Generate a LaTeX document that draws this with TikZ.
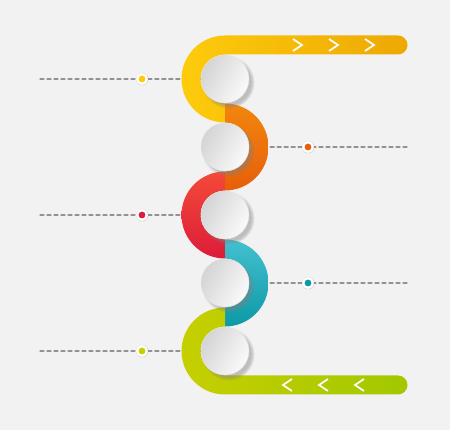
\documentclass[tikz,border=0pt]{standalone}
\usetikzlibrary{positioning,backgrounds,shadows}

\definecolor{paper}{HTML}{F2F2F2}
\definecolor{yelA}{HTML}{FDCB0C}
\definecolor{yelB}{HTML}{EEA804}
\definecolor{orgA}{HTML}{F2860E}
\definecolor{orgB}{HTML}{E75F0A}
\definecolor{redA}{HTML}{F44A38}
\definecolor{redB}{HTML}{DC1C3A}
\definecolor{tealA}{HTML}{44C0D0}
\definecolor{tealB}{HTML}{0C99A6}
\definecolor{limeA}{HTML}{C6CF00}
\definecolor{limeB}{HTML}{A2C800}
\definecolor{discL}{HTML}{D4D4D4}
\definecolor{discR}{HTML}{FAFAFA}
\definecolor{leadgray}{HTML}{929292}

\tikzstyle{disc} = [circle, minimum size=48pt, inner sep=0pt, draw=black!12, line width=0.3pt, left color=discL, right color=discR, shading angle=60, circular drop shadow={shadow xshift=3pt, shadow yshift=-3pt, shadow scale=1.1, opacity=0.45}]
\tikzstyle{dot} = [circle, minimum size=9.5pt, inner sep=0pt, draw=white, line width=2.2pt, circular drop shadow={shadow xshift=0pt, shadow yshift=0pt, shadow scale=1.4, opacity=0.25}]
\tikzstyle{endpt} = [coordinate]
\tikzstyle{leader} = [leadgray, line width=1.3pt, dash pattern=on 4pt off 3pt, line cap=round]
\tikzstyle{chevron} = [white, line width=1.7pt, miter limit=4]

\begin{document}
\begin{tikzpicture}[x=1pt, y=1pt, node distance=68pt]
	\useasboundingbox (0,0) rectangle (450,430);
	
	\node (c1) [disc] at (225,351) {};
	
	\node (c2) [disc, below of=c1] {};
	
	\node (c3) [disc, below of=c2] {};
	
	\node (c4) [disc, below of=c3] {};
	
	\node (c5) [disc, below of=c4] {};
	
	\node (d1) [dot, fill=yelA, left of=c1, xshift=-15pt] {};
	\node (d2) [dot, fill=orgB, right of=c2, xshift=15pt] {};
	\node (d3) [dot, fill=redB, left of=c3, xshift=-15pt] {};
	\node (d4) [dot, fill=tealB, right of=c4, xshift=15pt] {};
	\node (d5) [dot, fill=limeA, left of=c5, xshift=-15pt] {};
	
	\node (e1) [endpt, left of=d1, xshift=-34pt] {};
	\node (e2) [endpt, right of=d2, xshift=31pt] {};
	\node (e3) [endpt, left of=d3, xshift=-34pt] {};
	\node (e4) [endpt, right of=d4, xshift=31pt] {};
	\node (e5) [endpt, left of=d5, xshift=-34pt] {};
	
	\begin{pgfonlayer}{background}
	\fill [paper] (0,0) rectangle (450,430);
	
	\draw [leader] (e1) -- (d1) -- (c1);
	\draw [leader] (e2) -- (d2) -- (c2);
	\draw [leader] (e3) -- (d3) -- (c3);
	\draw [leader] (e4) -- (d4) -- (c4);
	\draw [leader] (e5) -- (d5) -- (c5);
	
	% the snake band
	\shade [left color=yelA, right color=yelB] ([yshift=43.5pt]c1.center) -- ++(173,0) arc (90:-90:9.5) -- ([yshift=24.5pt]c1.center) arc (90:270:24.5) -- ++(0,-19) arc (270:90:43.5) -- cycle;
	\shade [top color=orgA, bottom color=orgB] ([yshift=43.5pt]c2.center) arc (90:-90:43.5) -- ++(0,19) arc (-90:90:24.5) -- cycle;
	\shade [top color=redA, bottom color=redB] ([yshift=43.5pt]c3.center) arc (90:270:43.5) -- ++(0,19) arc (270:90:24.5) -- cycle;
	\shade [top color=tealA, bottom color=tealB] ([yshift=43.5pt]c4.center) arc (90:-90:43.5) -- ++(0,19) arc (-90:90:24.5) -- cycle;
	\shade [left color=limeA, right color=limeB] ([yshift=43.5pt]c5.center) arc (90:270:43.5) -- ++(173,0) arc (-90:90:9.5) -- ([yshift=-24.5pt]c5.center) arc (270:90:24.5) -- cycle;
	\end{pgfonlayer}
	
	\draw [chevron] (293,391) -- (302,385) -- (293,379);
	\draw [chevron] (329,391) -- (338,385) -- (329,379);
	\draw [chevron] (365,391) -- (374,385) -- (365,379);
	
	\draw [chevron] (292,51) -- (283,45) -- (292,39);
	\draw [chevron] (328,51) -- (319,45) -- (328,39);
	\draw [chevron] (364,51) -- (355,45) -- (364,39);
\end{tikzpicture}
\end{document}
